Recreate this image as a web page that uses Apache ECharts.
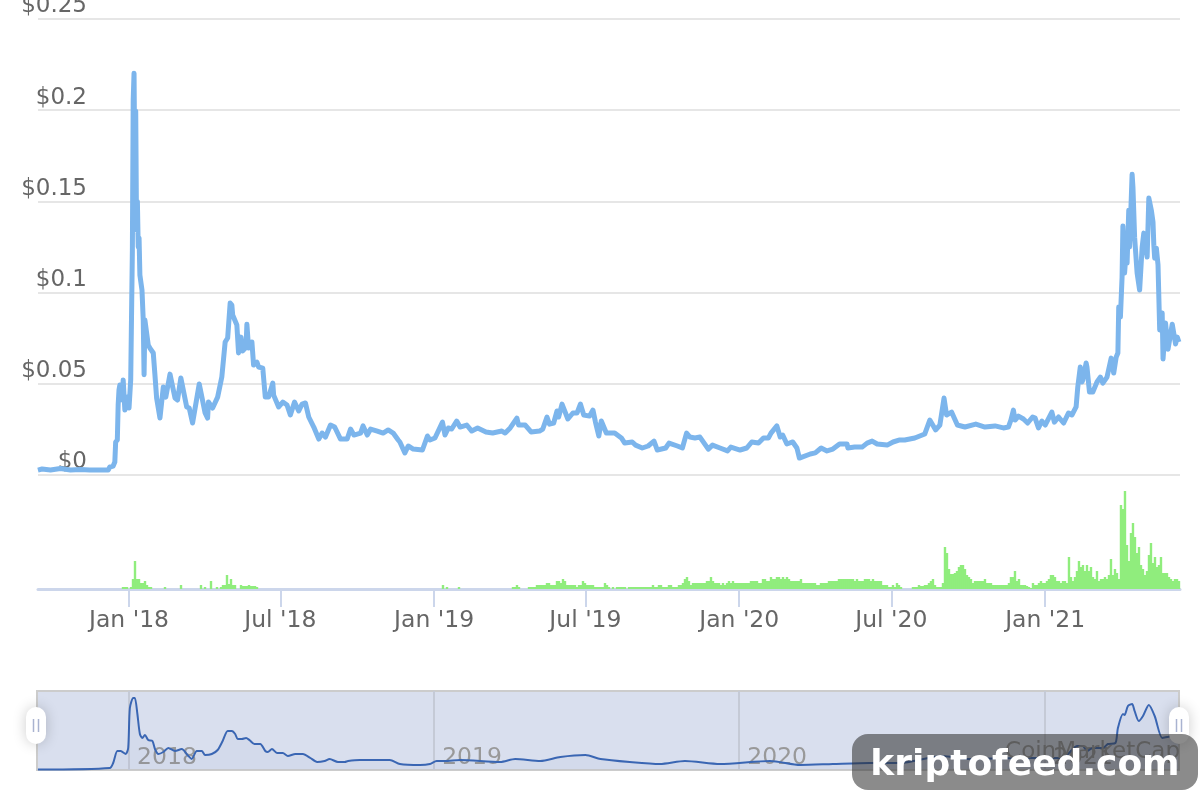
<!DOCTYPE html>
<html><head><meta charset="utf-8">
<style>html,body{margin:0;padding:0;background:#fff}#c{width:1200px;height:800px}</style>
<script src="https://cdn.jsdelivr.net/npm/echarts@6/dist/echarts.min.js"></script>
</head><body><div id="c"></div>
<script>
// [days since 1 Jan 2018, price in USD]
const pricePoints = [
[-109,.0027],[-104,.0033],[-94,.0027],[-82,.0036],[-70,.0027],[-58,.003],[-47,.0027],[-25,.0027],[-23,.0044],[-19,.0049],[-17,.0071],[-16,.0181],[-14,.0192],[-13,.0384],[-12,.0466],[-11,.0493],[-8,.0411],[-7,.0521],[-5,.0356],[-2,.0427],[0,.0367],[2,.0521],[4,.1233],[5,.2055],[6,.2203],[7,.1617],[8,.1995],[9,.1343],[10,.15],[11,.125],[12,.13],[13,.1096],[14,.109],[15.5,.1014],[17,.085],[18,.055],[19,.085],[21,.086],[23,.0712],[25,.0696],[29,.0669],[31,.0548],[33,.0422],[37,.0312],[41,.0482],[44,.0427],[49,.0553],[55,.0422],[58,.0411],[62,.0532],[69,.0373],[72,.0367],[76,.0285],[84,.0499],[86,.0493],[91,.034],[94,.0312],[95,.04],[100,.0367],[106,.0427],[111,.0537],[113,.0537],[115,.0729],[118,.0751],[121,.0943],[123,.0932],[124,.0877],[129,.0822],[131,.0669],[134,.0756],[136,.068],[140,.0701],[141,.0827],[143,.0696],[147,.0729],[149,.0603],[153,.0619],[155,.0592],[160,.0586],[163,.0427],[167,.0427],[172,.0504],[173,.0438],[179,.0373],[184,.04],[189,.0384],[193,.0329],[198,.04],[203,.0351],[207,.0389],[211,.0395],[215,.0318],[221,.0263],[227,.0197],[231,.023],[235,.0208],[241,.0274],[246,.0263],[253,.0197],[261,.0197],[265,.0252],[269,.0219],[277,.023],[280,.0269],[285,.0219],[289,.0252],[297,.0241],[304,.023],[310,.0247],[316,.023],[322,.0192],
[324,.0181],[330,.0121],[334,.0159],[340,.0142],[351,.0137],[357,.0214],[360,.0192],[366,.0203],[375,.029],[378,.0219],[382,.0258],[386,.0252],[392,.0296],[396,.0263],[404,.0274],[410,.0241],[417,.0258],[427,.0236],[435,.023],[446,.0241],[450,.023],[456,.0258],[464,.0312],[466,.0274],[474,.0274],[481,.0236],[491,.0241],[495,.0252],[500,.0318],[503,.0279],[508,.0285],[512,.0351],[514,.0318],[518,.0389],[525,.0307],[531,.034],[536,.034],[540,.0389],[544,.0329],[551,.0323],[555,.0356],[558,.029],[562,.0214],[565,.0296],[571,.023],[581,.023],[589,.0203],[593,.0175],[602,.0181],[606,.0164],[614,.0148],[621,.0159],[628,.0186],[632,.0137],[642,.0148],[646,.0175],[656,.0159],[662,.0148],[667,.023],[671,.0208],[677,.0203],[683,.0208],[693,.0142],[698,.0164],[707,.0148],[716,.0132],[720,.0153],[731,.0137],[739,.0148],[745,.0181],[753,.0175],[759,.0203],[765,.0203],[768,.023],[770,.0236],[775,.0269],[779,.0208],[782,.0219],[787,.017],[794,.0181],[799,.0148],[802,.0093],[815,.0115],[821,.0121],[828,.0148],[835,.0132],[842,.0142],[850,.017],[859,.017],[860,.0148],[868,.0153],[877,.0153],[883,.0175],[889,.0186],[895,.017],[907,.0164],[914,.0181],[922,.0192],
[928,.0192],[940,.0203],[952,.0225],[958,.0301],[965,.0247],[970,.0274],[975,.0422],[978,.0329],[984,.0345],[991,.0274],[1000,.0263],[1013,.0279],[1024,.0263],[1036,.0269],[1046,.0258],[1052,.0263],[1055,.0301],[1058,.0356],[1060,.0301],[1064,.0323],[1070,.0307],[1075,.0285],[1081,.0318],[1084,.0312],[1088,.0258],[1092,.0296],[1096,.0274],[1104,.0345],[1107,.029],[1112,.0318],[1118,.0285],[1124,.034],[1128,.0329],[1133,.0373],[1135,.0482],[1138,.0592],[1140,.051],[1141,.0521],[1145,.0614],[1146,.0592],[1149,.0455],[1153,.0455],[1158,.051],[1162,.0537],[1165,.0504],[1170,.0537],[1175,.0641],[1178,.0559],[1181,.0647],[1183,.0669],[1184,.0921],[1186,.0866],[1188,.1085],[1189,.1365],[1191,.1107],[1193,.1233],[1194,.1162],[1196,.1452],[1197,.125],[1200,.1649],[1201,.1578],[1203,.1304],[1206,.1107],[1209,.1014],[1212,.1249],[1214,.1326],[1218,.1195],[1220,.1518],[1223,.1452],[1225,.1386],[1226,.126],[1227,.1189],[1229,.1244],[1231,.1151],[1233,.0795],[1236,.0888],[1237,.0636],[1240,.0833],[1243,.069],[1248,.0827],[1252,.0718],[1254,.0756],[1256,.0729]
];

// one bar per 2.39 days from day -107.7, relative volume
const volumeValues = [
0,0,0,0,0,0,0,0,0,0, 0,0,0,0,0,0,0,0,0,0, 0,0,0,0,0,0,0,0,0,0, 0,0,0,0,0,0,0,0,0,0,
0,0,2,2,2,0,2,10,28,10,
10,6,6,8,4,2,2,0,0,0,
0,0,0,2,0,0,0,0,0,0,
0,4,0,0,0,0,0,0,0,0,
0,4,0,2,0,0,8,0,0,2,
0,2,4,4,14,5,10,4,4,0,
0,4,3,3,3,4,3,3,3,2,
0,0,0,0,0,0,0,0,0,0, 0,0,0,0,0,0,0,0,0,0, 0,0,0,0,0,0,0,0,0,0, 0,0,0,0,0,0,0,0,0,0, 0,0,0,0,0,0,0,0,0,0,
0,0,0,0,0,0,0,0,0,0, 0,0,0,0,0,0,0,0,0,0, 0,0,0,0,0,0,0,0,0,0, 0,0,0,0,0,0,0,0,0,0,
0,0,4,0,2,0,0,0,0,0,
2,0,0,0,0,0,0,0,0,0,
0,0,0,0,0,0,0,0,0,0,
0,0,0,0,0,0,0,2,2,4,
2,0,0,0,0,2,2,2,2,4,
4,4,4,4,6,6,4,4,4,8,
8,6,10,8,4,4,4,4,4,2,
4,4,8,6,4,4,4,4,2,2,
2,2,2,6,4,2,0,2,0,2,
2,2,2,2,0,2,2,2,2,2,
2,2,2,2,2,2,2,4,2,2,
4,4,2,2,2,4,4,2,2,2,
4,4,6,10,12,8,4,6,6,6,
6,6,6,6,8,8,12,8,6,6,
6,4,6,4,6,8,6,8,6,6,
6,6,6,6,6,6,8,8,8,8,
6,6,10,10,8,8,12,10,10,12,
12,10,12,10,12,10,8,8,8,8,
8,10,6,6,6,6,6,6,6,4,
4,6,6,6,6,8,8,8,8,8,
10,10,10,10,10,10,10,10,8,10,
8,8,8,10,10,10,8,10,8,8,
8,8,4,4,4,2,2,4,2,6,
4,2,0,0,0,0,0,2,2,2,
4,3,3,4,4,6,8,10,4,2,
2,2,6,42,36,20,15,15,16,18,
22,24,24,20,14,12,10,6,8,8,
8,8,8,10,6,6,6,4,4,4,
4,4,4,4,4,6,12,12,18,8,
10,4,4,4,3,2,1,6,4,4,
6,8,6,6,8,10,14,14,12,8,
8,6,8,8,6,32,12,8,12,18,
28,22,24,18,24,18,22,12,10,18,
8,10,10,12,10,14,30,14,20,16,
10,84,80,98,44,28,56,66,52,36,
42,24,20,14,18,34,46,26,32,22,
24,32,16,16,16,12,10,8,10,10,
8
];
const volumeStartDay = -107.7, volumeStepDays = 2.3926;

// navigator overview line: [days since 1 Jan 2018, relative level]
const navPoints = [
[-109,.5],[-23,2],[-19,7],[-14,19],[-10,19],[-4,16],[-1,22],[1,62],[5,72],[7,72],[10,56],[13,36],[16,32],[19,35],[23,30],[28,29],[31,21],[35,16],[41,18],[47,22],[55,19],[63,21],[71,14],[75,11],[81,19],[87,19],[91,15],[99,16],[106,20],[112,29],[118,39],[123,39],[127,36],[130,31],[135,31],[140,32],[144,30],[150,26],[157,26],[163,19],[166,18],[171,21],[177,17],[184,17],[190,14],[199,16],[208,16],[217,12],[225,8],[234,9],[240,11],[250,8],[258,8],[262,9],[276,10],[297,10],[312,10],[324,6],[348,5],[360,6],[368,9],[378,9],[396,10],[444,8],[462,11],[492,9],[516,13],[546,15],[564,11],[599,8],[635,6],[665,9],[707,6],[767,9],[803,5],[842,6],[886,7],[922,7],[973,14],[1002,11],[1066,12],[1117,12],[1134,24],[1141,24],[1146,19],[1153,22],[1165,22],[1171,26],[1180,27],[1183,42],[1189,56],[1191,55],[1195,64],[1200,66],[1203,59],[1208,49],[1213,54],[1220,65],[1227,54],[1236,32],[1242,33],[1248,34],[1256,34]
];

const tickDates = ['2018-01-01','2018-07-01','2019-01-01','2019-07-01','2020-01-01','2020-07-01','2021-01-01'];
const tickLabels = ["Jan '18","Jul '18","Jan '19","Jul '19","Jan '20","Jul '20","Jan '21"];
const yearDates = ['2018-01-01','2019-01-01','2020-01-01','2021-01-01'];
const yearLabels = ['2018','2019','2020','2021'];
const priceMax = 0.25, priceStep = 0.05;
const axisStartDay = -108.9, axisEndDay = 1257.3;
const navStartDay = -110.1, navEndDay = 1256.1;

const DAY = 864e5, T0 = Date.UTC(2018,0,1);
const dayOf = s => (Date.parse(s+'T00:00:00Z') - T0) / DAY;
const FONT = '"DejaVu Sans", Verdana, sans-serif';
const tickDays = tickDates.map(dayOf), yearDays = yearDates.map(dayOf);

const handle = (cx) => ([
  {type:'rect',z:50,shape:{x:cx-10,y:707,width:20,height:37,r:10},
   style:{fill:'#fff',shadowBlur:14,shadowColor:'rgba(0,0,0,0.2)'}},
  {type:'line',z:51,shape:{x1:cx-2.5,y1:719,x2:cx-2.5,y2:732},style:{stroke:'#a9b3d0',lineWidth:1.5}},
  {type:'line',z:51,shape:{x1:cx+2.5,y1:719,x2:cx+2.5,y2:732},style:{stroke:'#a9b3d0',lineWidth:1.5}}
]);

const chart = echarts.init(document.getElementById('c'),null,{renderer:'canvas'});
chart.setOption({
  animation:false,
  backgroundColor:'#fff',
  textStyle:{fontFamily:FONT},
  grid:[
    {left:38,width:1142,top:19,height:456,outerBoundsMode:'none'},
    {left:38,width:1142,top:489,height:100,outerBoundsMode:'none'},
    {left:37,width:1142,top:691,height:79,outerBoundsMode:'none',show:true,backgroundColor:'#d9dfee',borderColor:'#cccccc',borderWidth:2}
  ],
  xAxis:[
    {type:'value',gridIndex:0,min:axisStartDay,max:axisEndDay,show:false,splitLine:{show:false}},
    {type:'value',gridIndex:1,min:axisStartDay,max:axisEndDay,
     axisLine:{show:true,onZero:false,lineStyle:{color:'#ccd6eb',width:3}},
     axisTick:{show:true,length:18,lineStyle:{color:'#ccd6eb',width:2},customValues:tickDays},
     splitLine:{show:false},
     axisLabel:{show:true,customValues:tickDays,margin:20,color:'#666',fontSize:23.5,fontFamily:FONT,hideOverlap:false,
       formatter:v=>tickLabels[tickDays.indexOf(+v)]||''}},
    {type:'value',gridIndex:2,min:navStartDay,max:navEndDay,
     axisLine:{show:false,onZero:false},
     axisTick:{show:true,inside:true,length:79,lineStyle:{color:'#c5cad6',width:2},customValues:yearDays},
     splitLine:{show:false},
     axisLabel:{show:true,customValues:yearDays,inside:false,margin:-24,color:'#999',fontSize:23.5,fontFamily:FONT,align:'left',padding:[0,0,0,8],hideOverlap:false,
       formatter:v=>yearLabels[yearDays.indexOf(+v)]||''}}
  ],
  yAxis:[
    {type:'value',gridIndex:0,min:0,max:priceMax,interval:priceStep,
     axisLine:{show:false},axisTick:{show:false},
     splitLine:{show:true,lineStyle:{color:'#e6e6e6',width:2}},
     axisLabel:{show:true,margin:-49,color:'#666',fontSize:23,fontFamily:FONT,align:'right',verticalAlign:'bottom',padding:[0,0,1,0],hideOverlap:false,
       showMinLabel:true,showMaxLabel:true,
       formatter:v=>'$'+parseFloat((+v).toFixed(2))}},
    {type:'value',gridIndex:1,min:0,max:100,show:false,splitLine:{show:false}},
    {type:'value',gridIndex:2,min:0,max:79,show:false,splitLine:{show:false}}
  ],
  series:[
    {type:'line',name:'Price',xAxisIndex:0,yAxisIndex:0,showSymbol:false,clip:false,
     lineStyle:{color:'#7cb5ec',width:5,join:'round'},itemStyle:{color:'#7cb5ec'},
     data:pricePoints,z:5},
    {type:'bar',name:'Volume',xAxisIndex:1,yAxisIndex:1,barWidth:2.4,itemStyle:{color:'#90ed7d'},
     data:volumeValues.map((v,i)=>[volumeStartDay+i*volumeStepDays,v])},
    {type:'line',name:'Overview',xAxisIndex:2,yAxisIndex:2,showSymbol:false,smooth:0.25,
     lineStyle:{color:'#3a66b3',width:2},itemStyle:{color:'#3a66b3'},
     areaStyle:{color:'rgba(51,92,173,0.05)'},
     data:navPoints,z:5}
  ],
  graphic:{elements:[
    ...handle(36),...handle(1179),
    {type:'text',z:40,style:{x:1180,y:752,text:'CoinMarketCap',fill:'#999',font:'23px '+FONT,textAlign:'right',textVerticalAlign:'middle'}},
    {type:'rect',z:60,shape:{x:852,y:734,width:346,height:56,r:16},style:{fill:'rgba(44,44,44,0.55)'}},
    {type:'text',z:61,style:{x:1025,y:766,text:'kriptofeed.com',fill:'#fff',font:'bold 36px '+FONT,textAlign:'center',textVerticalAlign:'middle',
      textShadowColor:'#000',textShadowBlur:0,textShadowOffsetX:3,textShadowOffsetY:3}}
  ]}
});
</script></body></html>
